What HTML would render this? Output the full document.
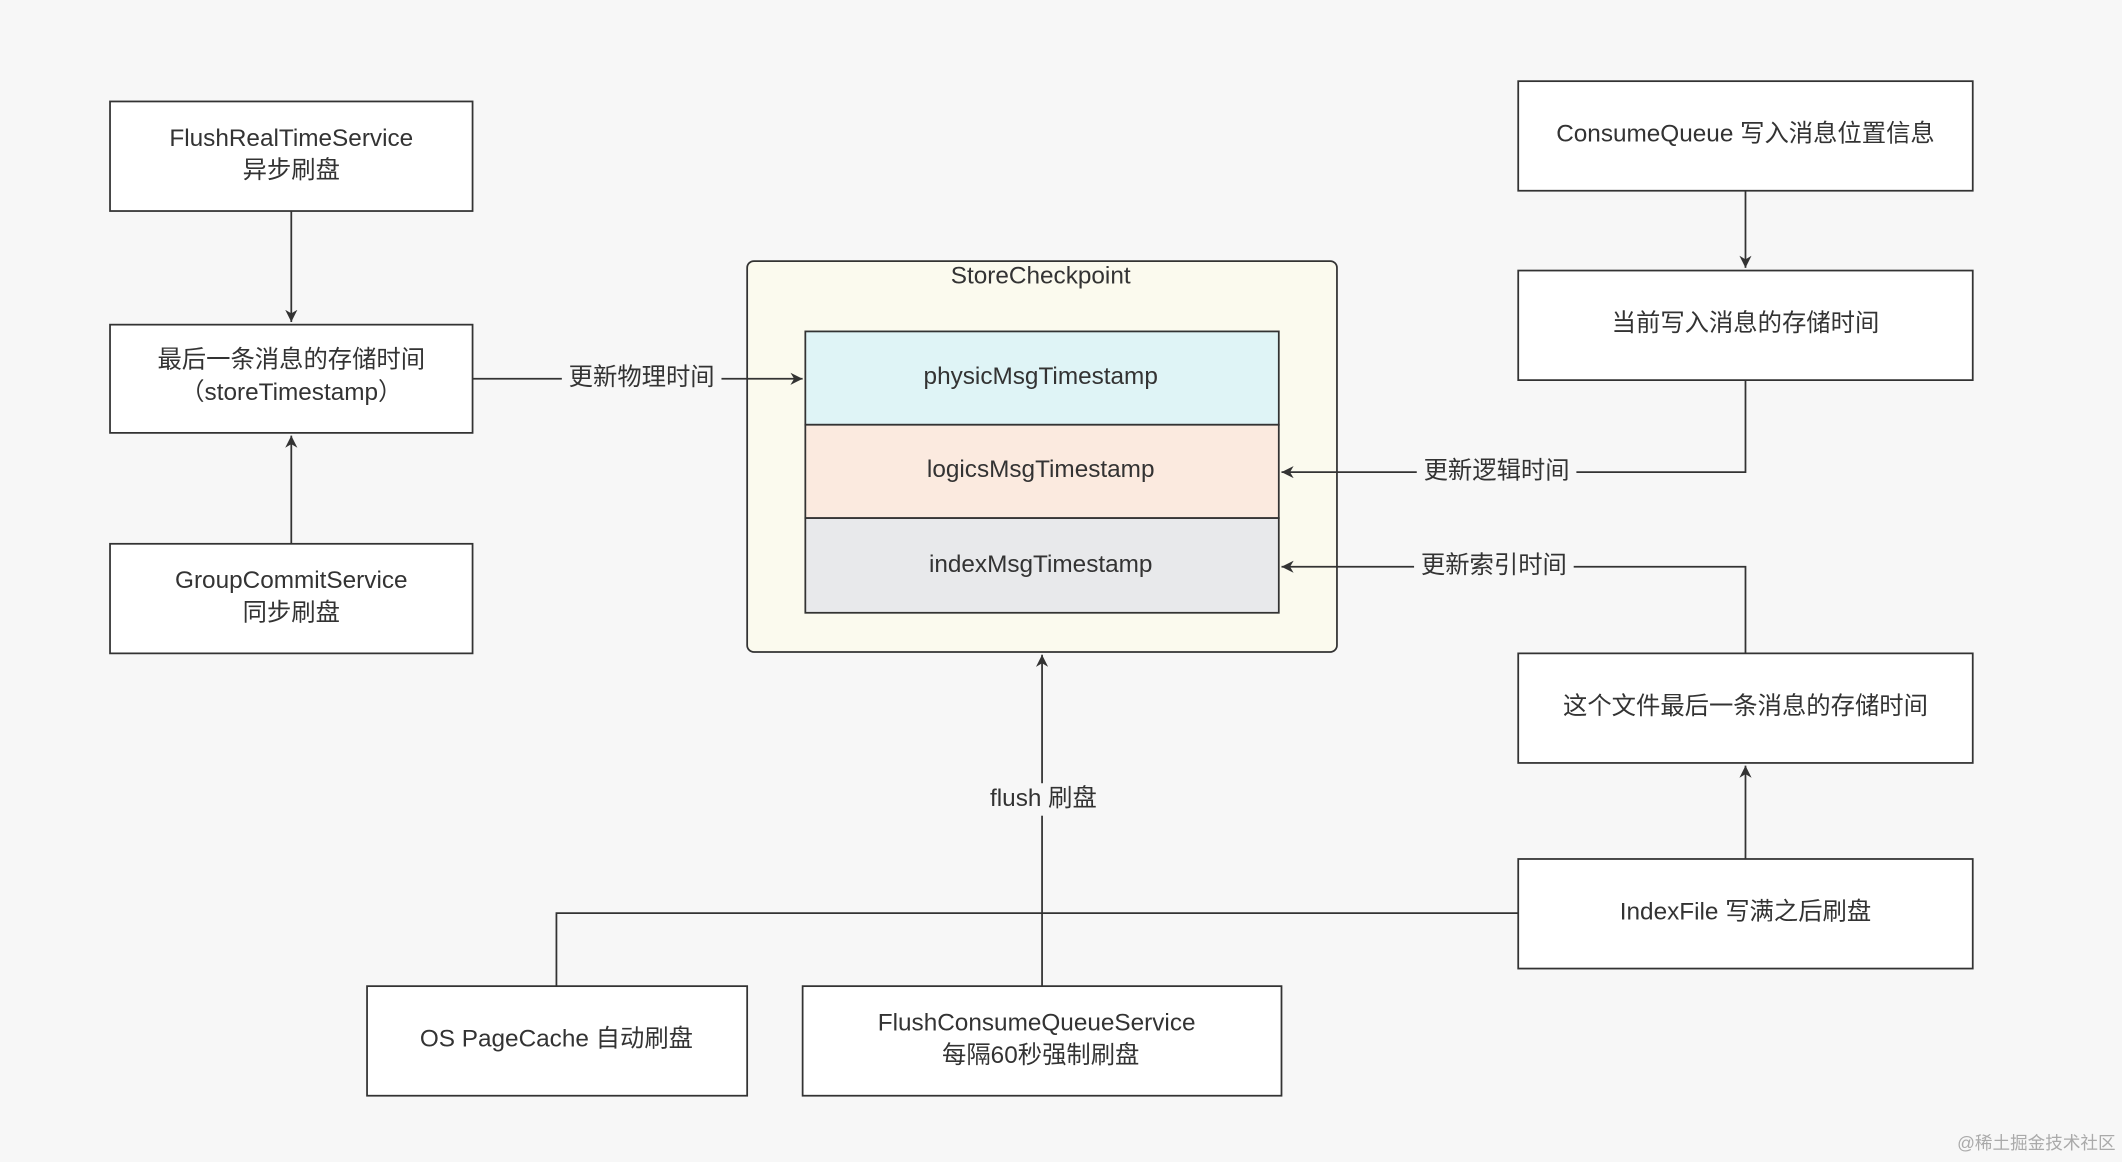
<!DOCTYPE html>
<html><head><meta charset="utf-8"><style>
html,body{margin:0;padding:0;background:#f7f7f7;}
svg{display:block;}
text{font-family:"Liberation Sans","Noto Sans CJK SC",sans-serif;font-size:18px;fill:#333;text-anchor:middle;dominant-baseline:middle;}
.b{fill:#fff;stroke:#333;stroke-width:1.3;}
.l{stroke:#333;stroke-width:1.3;fill:none;}
</style></head><body>
<svg width="2122" height="1162" viewBox="0 0 1568 859" xmlns="http://www.w3.org/2000/svg">
<defs><marker id="a" viewBox="0 0 10 10" refX="10" refY="5" markerWidth="9" markerHeight="9" orient="auto" markerUnits="userSpaceOnUse"><path d="M0,0 L10,5 L0,10 L3,5 z" fill="#333"/></marker></defs>
<rect width="1568" height="859" fill="#f7f7f7"/>
<!-- left boxes -->
<rect class="b" x="81" y="75" width="268" height="81"/>
<text x="215" y="103">FlushRealTimeService</text><text x="215" y="127">异步刷盘</text>
<rect class="b" x="81" y="240" width="268" height="80"/>
<text x="215" y="267">最后一条消息的存储时间</text><text x="215" y="291">（storeTimestamp）</text>
<rect class="b" x="81" y="402" width="268" height="81"/>
<text x="215" y="430">GroupCommitService</text><text x="215" y="454">同步刷盘</text>
<path class="l" d="M215,156 V238" marker-end="url(#a)"/>
<path class="l" d="M215,402 V322" marker-end="url(#a)"/>
<!-- checkpoint -->
<rect x="552" y="193" width="436" height="289" rx="5" fill="#fbfaee" stroke="#333" stroke-width="1.3"/>
<text x="769" y="205">StoreCheckpoint</text>
<rect x="595" y="245" width="350" height="69" fill="#dff4f6" stroke="#333" stroke-width="1.3"/>
<text x="769" y="279">physicMsgTimestamp</text>
<rect x="595" y="314" width="350" height="69" fill="#fbeadf" stroke="#333" stroke-width="1.3"/>
<text x="769" y="348">logicsMsgTimestamp</text>
<rect x="595" y="383" width="350" height="70" fill="#e8e9eb" stroke="#333" stroke-width="1.3"/>
<text x="769" y="418">indexMsgTimestamp</text>
<path class="l" d="M349,280 H593" marker-end="url(#a)"/>
<rect x="415" y="268" width="118" height="24" fill="#f7f7f7"/>
<text x="474" y="280">更新物理时间</text>
<!-- right -->
<rect class="b" x="1122" y="60" width="336" height="81"/>
<text x="1290" y="100">ConsumeQueue 写入消息位置信息</text>
<rect class="b" x="1122" y="200" width="336" height="81"/>
<text x="1290" y="240">当前写入消息的存储时间</text>
<path class="l" d="M1290,141 V198" marker-end="url(#a)"/>
<path class="l" d="M1290,281 V349 H947" marker-end="url(#a)"/>
<rect x="1047" y="337" width="118" height="24" fill="#f7f7f7"/>
<text x="1106" y="349">更新逻辑时间</text>
<rect class="b" x="1122" y="483" width="336" height="81"/>
<text x="1290" y="523">这个文件最后一条消息的存储时间</text>
<path class="l" d="M1290,483 V419 H947" marker-end="url(#a)"/>
<rect x="1045" y="407" width="118" height="24" fill="#f7f7f7"/>
<text x="1104" y="419">更新索引时间</text>
<rect class="b" x="1122" y="635" width="336" height="81"/>
<text x="1290" y="675">IndexFile 写满之后刷盘</text>
<path class="l" d="M1290,635 V566" marker-end="url(#a)"/>
<!-- bottom -->
<rect class="b" x="271" y="729" width="281" height="81"/>
<text x="411" y="769">OS PageCache 自动刷盘</text>
<rect class="b" x="593" y="729" width="354" height="81"/>
<text x="766" y="757">FlushConsumeQueueService</text><text x="769" y="781">每隔60秒强制刷盘</text>
<path class="l" d="M411,729 V675 H1122"/>
<path class="l" d="M770,729 V484" marker-end="url(#a)"/>
<rect x="726" y="579" width="90" height="24" fill="#f7f7f7"/>
<text x="771" y="591">flush 刷盘</text>
<text x="1505" y="846" style="font-size:13px;fill:#aaa">@稀土掘金技术社区</text>
</svg>
</body></html>
